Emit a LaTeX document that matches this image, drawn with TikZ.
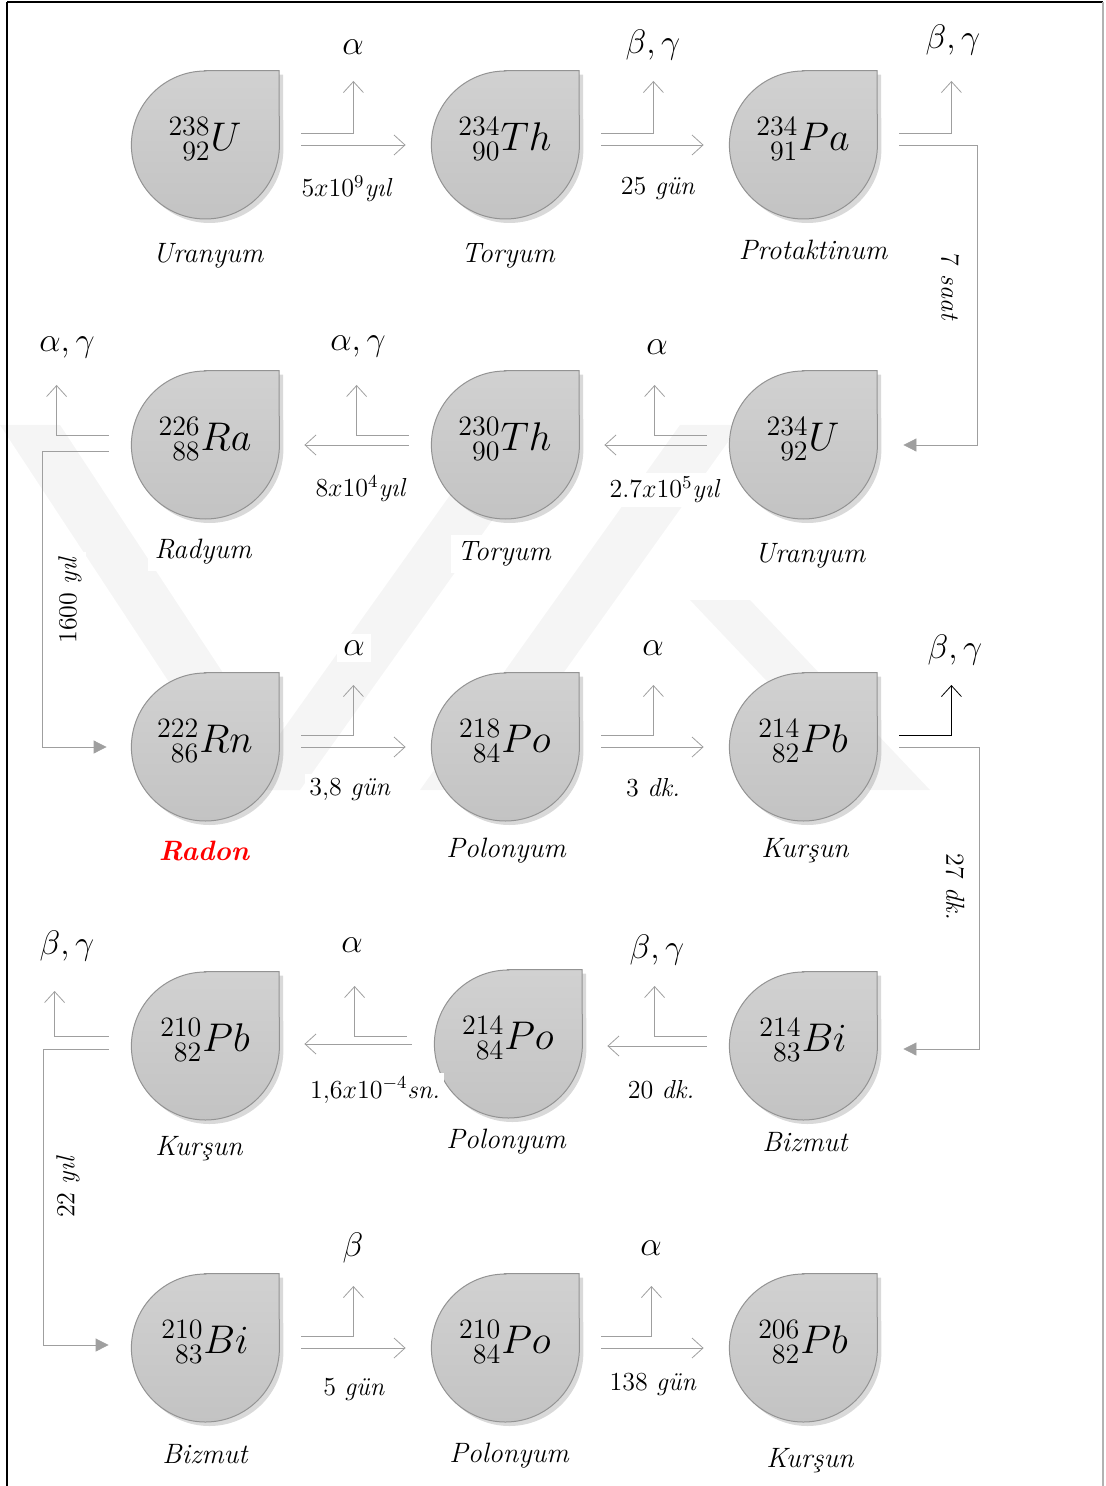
\RequirePackage{fix-cm}
\documentclass[tikz,border=0pt]{standalone}
\usepackage{tikz}
\usetikzlibrary{arrows.meta,calc,shadows,backgrounds}
\pgfdeclarelayer{mark}
\pgfsetlayers{mark,background,main}
\newcommand{\nuc}[3]{${}^{#1}_{\hphantom{0}#2}#3$}

\begin{document}
\begin{tikzpicture}[x=0.5pt, y=-0.5pt, line width=1.3pt,
    nucl/.style = {circle, minimum size=74pt, inner sep=0pt},
    iso/.style = {yshift=3pt, font=\fontsize{20}{24}\selectfont},
    teardrop/.style = {draw=gray!85, line width=0.5pt, top color=gray!36, bottom color=gray!47,
                       drop shadow={shadow xshift=2pt, shadow yshift=-2pt, opacity=0.3}},
    elem/.style = {fill=white, font=\fontsize{14}{16}\selectfont\itshape},
    rate/.style = {fill=white, inner sep=2pt, font=\fontsize{13}{15}\selectfont},
    particle/.style = {fill=white, font=\fontsize{17}{19}\selectfont},
    decayarr/.style = {draw=gray!75, -{Straight Barb[length=5.5pt,width=10pt]}, shorten <=11pt, shorten >=12.5pt},
    emit/.style = {draw=gray!75, -{Straight Barb[length=5.5pt,width=10pt]}},
    longarr/.style = {draw=gray!75, -{Triangle[length=6.5pt,width=6.5pt]}}]
  \useasboundingbox (0,0) rectangle (1105,1486);
  % watermark
  \begin{pgfonlayer}{mark}
    \fill[gray!8] (0,425) -- (60,425) -- (300,790) -- (240,790) -- cycle;
    \fill[gray!8] (240,790) -- (300,790) -- (560,425) -- (500,425) -- cycle;
    \fill[gray!8] (420,790) -- (480,790) -- (740,425) -- (680,425) -- cycle;
    \fill[gray!8] (690,600) -- (750,600) -- (930,790) -- (870,790) -- cycle;
  \end{pgfonlayer}
  \draw[black, line width=1pt] (7,2) -- (1103,2);
  \draw[gray!60, line width=1pt] (1103,2) -- (1103,1486);
  \draw[black, line width=1.2pt] (7,2) -- (7,1486);

  \node [nucl, label={[iso]center:\nuc{238}{92}{U}}] (u238) at (205,145) {};
  \node [nucl, label={[iso]center:\nuc{234}{90}{Th}}] (th234) at (505,145) {};
  \node [nucl, label={[iso]center:\nuc{234}{91}{Pa}}] (pa234) at (803,145) {};
  \node [nucl, label={[iso]center:\nuc{226}{88}{Ra}}] (ra226) at (205,445) {};
  \node [nucl, label={[iso]center:\nuc{230}{90}{Th}}] (th230) at (505,445) {};
  \node [nucl, label={[iso]center:\nuc{234}{92}{U}}] (u234) at (803,445) {};
  \node [nucl, label={[iso]center:\nuc{222}{86}{Rn}}] (rn222) at (205,747) {};
  \node [nucl, label={[iso]center:\nuc{218}{84}{Po}}] (po218) at (505,747) {};
  \node [nucl, label={[iso]center:\nuc{214}{82}{Pb}}] (pb214) at (803,747) {};
  \node [nucl, label={[iso]center:\nuc{210}{82}{Pb}}] (pb210) at (205,1046) {};
  \node [nucl, label={[iso]center:\nuc{214}{84}{Po}}] (po214) at (508,1044) {};
  \node [nucl, label={[iso]center:\nuc{214}{83}{Bi}}] (bi214) at (803,1046) {};
  \node [nucl, label={[iso]center:\nuc{210}{83}{Bi}}] (bi210) at (205,1348) {};
  \node [nucl, label={[iso]center:\nuc{210}{84}{Po}}] (po210) at (505,1348) {};
  \node [nucl, label={[iso]center:\nuc{206}{82}{Pb}}] (pb206) at (803,1348) {};
  \begin{scope}[on background layer]
    \foreach \n in {u238,th234,pa234,ra226,th230,u234,rn222,po218,pb214,pb210,po214,bi214,bi210,po210,pb206}
      \draw[teardrop] (\n.north) -- ++(37pt,0pt) -- (\n.east) arc[start angle=0, end angle=-270, radius=37pt] -- cycle;
  \end{scope}

  \node [elem] (nu1) at (208,256) {Uranyum};
  \node [elem] (nt1) at (508,256) {Toryum};
  \node [elem] (np1) at (813,250) {Protaktinum};
  \node [elem] (nr1) at (203,552) {Radyum};
  \node [elem] (nt2) at (504,554) {Toryum};
  \node [elem] (nu2) at (810,556) {Uranyum};
  \node [elem, text=red, font=\fontsize{14}{16}\selectfont\itshape\bfseries] (nrn) at (204,851) {Radon};
  \node [elem] (npo1) at (506,851) {Polonyum};
  \node [elem] (npb1) at (805,851) {Kurşun};
  \node [elem] (npb2) at (199,1149) {Kurşun};
  \node [elem] (npo2) at (506,1142) {Polonyum};
  \node [elem] (nbi1) at (805,1142) {Bizmut};
  \node [elem] (nbi2) at (205,1454) {Bizmut};
  \node [elem] (npo3) at (509,1456) {Polonyum};
  \node [elem] (npb3) at (810,1461) {Kurşun};

  \node [particle] (r1) at (353,47) {$\alpha$};
  \node [particle] (r2) at (653,45) {$\beta,\gamma$};
  \node [particle] (r3) at (953,40) {$\beta,\gamma$};
  \node [particle] (r4) at (67,347) {$\alpha,\gamma$};
  \node [particle] (r5) at (358,346) {$\alpha,\gamma$};
  \node [particle] (r6) at (657,347) {$\alpha$};
  \node [particle] (r7) at (354,648) {$\alpha$};
  \node [particle] (r8) at (653,648) {$\alpha$};
  \node [particle] (r9) at (955,650) {$\beta,\gamma$};
  \node [particle] (r10) at (67,946) {$\beta,\gamma$};
  \node [particle] (r11) at (352,945) {$\alpha$};
  \node [particle] (r12) at (657,950) {$\beta,\gamma$};
  \node [particle] (r13) at (353,1248) {$\beta$};
  \node [particle] (r14) at (651,1248) {$\alpha$};

  \node [rate] (t1) at (347,189) {$5x10^9$\textit{yıl}};
  \node [rate] (t2) at (658,189) {25 \textit{gün}};
  \node [rate] (t3) at (665,490) {$2.7x10^5$\textit{yıl}};
  \node [rate] (t4) at (361,489) {$8x10^4$\textit{yıl}};
  \node [rate] (t5) at (350,789) {3,8 \textit{gün}};
  \node [rate] (t6) at (653,788) {3 \textit{dk.}};
  \node [rate] (t7) at (661,1090) {20 \textit{dk.}};
  \node [rate] (t8) at (375,1090) {$1{,}6x10^{-4}$\textit{sn.}};
  \node [rate] (t9) at (354,1390) {5 \textit{gün}};
  \node [rate] (t10) at (653,1384) {138 \textit{gün}};
  \node [rate, rotate=-90] (t11) at (950,287) {7 \textit{saat}};
  \node [rate, rotate=90] (t12) at (70,600) {1600 \textit{yıl}};
  \node [rate, rotate=-90] (t13) at (955,887) {27 \textit{dk.}};
  \node [rate, rotate=90] (t14) at (68,1187) {22 \textit{yıl}};

  \draw[decayarr] (u238) -- (th234);
  \draw[emit] ($(u238.east)+(22,-12)$) -- ++(52,0) -- ++(0,-52);
  \draw[decayarr] (th234) -- (pa234);
  \draw[emit] ($(th234.east)+(22,-12)$) -- ++(52,0) -- ++(0,-52);
  \draw[emit] ($(pa234.east)+(22,-12)$) -- ++(52,0) -- ++(0,-52);
  \draw[longarr] ($(pa234.east)+(22,0)$) -- ++(78,0) |- ($(u234.east)+(26,0)$);

  \draw[decayarr] (u234) -- (th230);
  \draw[emit] ($(u234.west)+(-22,-10)$) -- ++(-52,0) -- ++(0,-50);
  \draw[decayarr] (th230) -- (ra226);
  \draw[emit] ($(th230.west)+(-22,-10)$) -- ++(-52,0) -- ++(0,-50);
  \draw[emit] ($(ra226.west)+(-22,-10)$) -- ++(-52,0) -- ++(0,-50);
  \draw[longarr] ($(ra226.west)+(-22,6)$) -- ++(-66,0) |- ($(rn222.west)+(-24,0)$);

  \draw[decayarr] (rn222) -- (po218);
  \draw[emit] ($(rn222.east)+(22,-12)$) -- ++(52,0) -- ++(0,-50);
  \draw[decayarr] (po218) -- (pb214);
  \draw[emit] ($(po218.east)+(22,-12)$) -- ++(52,0) -- ++(0,-50);
  \draw[emit, draw=black] ($(pb214.east)+(22,-12)$) -- ++(52,0) -- ++(0,-50);
  \draw[longarr] ($(pb214.east)+(22,0)$) -- ++(80,0) |- ($(bi214.east)+(26,3)$);

  \draw[decayarr] (bi214.west) -- (bi214.west -| po214.east);
  \draw[emit] ($(bi214.west)+(-22,-10)$) -- ++(-52,0) -- ++(0,-50);
  \draw[decayarr] (po214.west) -- (po214.west -| pb210.east);
  \draw[emit] ($(po214.west)+(-27,-8)$) -- ++(-52,0) -- ++(0,-50);
  \draw[emit] ($(pb210.west)+(-22,-10)$) -- ++(-54,0) -- ++(0,-45);
  \draw[longarr] ($(pb210.west)+(-22,3)$) -- ++(-65,0) |- ($(bi210.west)+(-22,-3)$);

  \draw[decayarr] (bi210) -- (po210);
  \draw[emit] ($(bi210.east)+(22,-12)$) -- ++(52,0) -- ++(0,-50);
  \draw[decayarr] (po210) -- (pb206);
  \draw[emit] ($(po210.east)+(22,-12)$) -- ++(50,0) -- ++(0,-50);
\end{tikzpicture}
\end{document}
